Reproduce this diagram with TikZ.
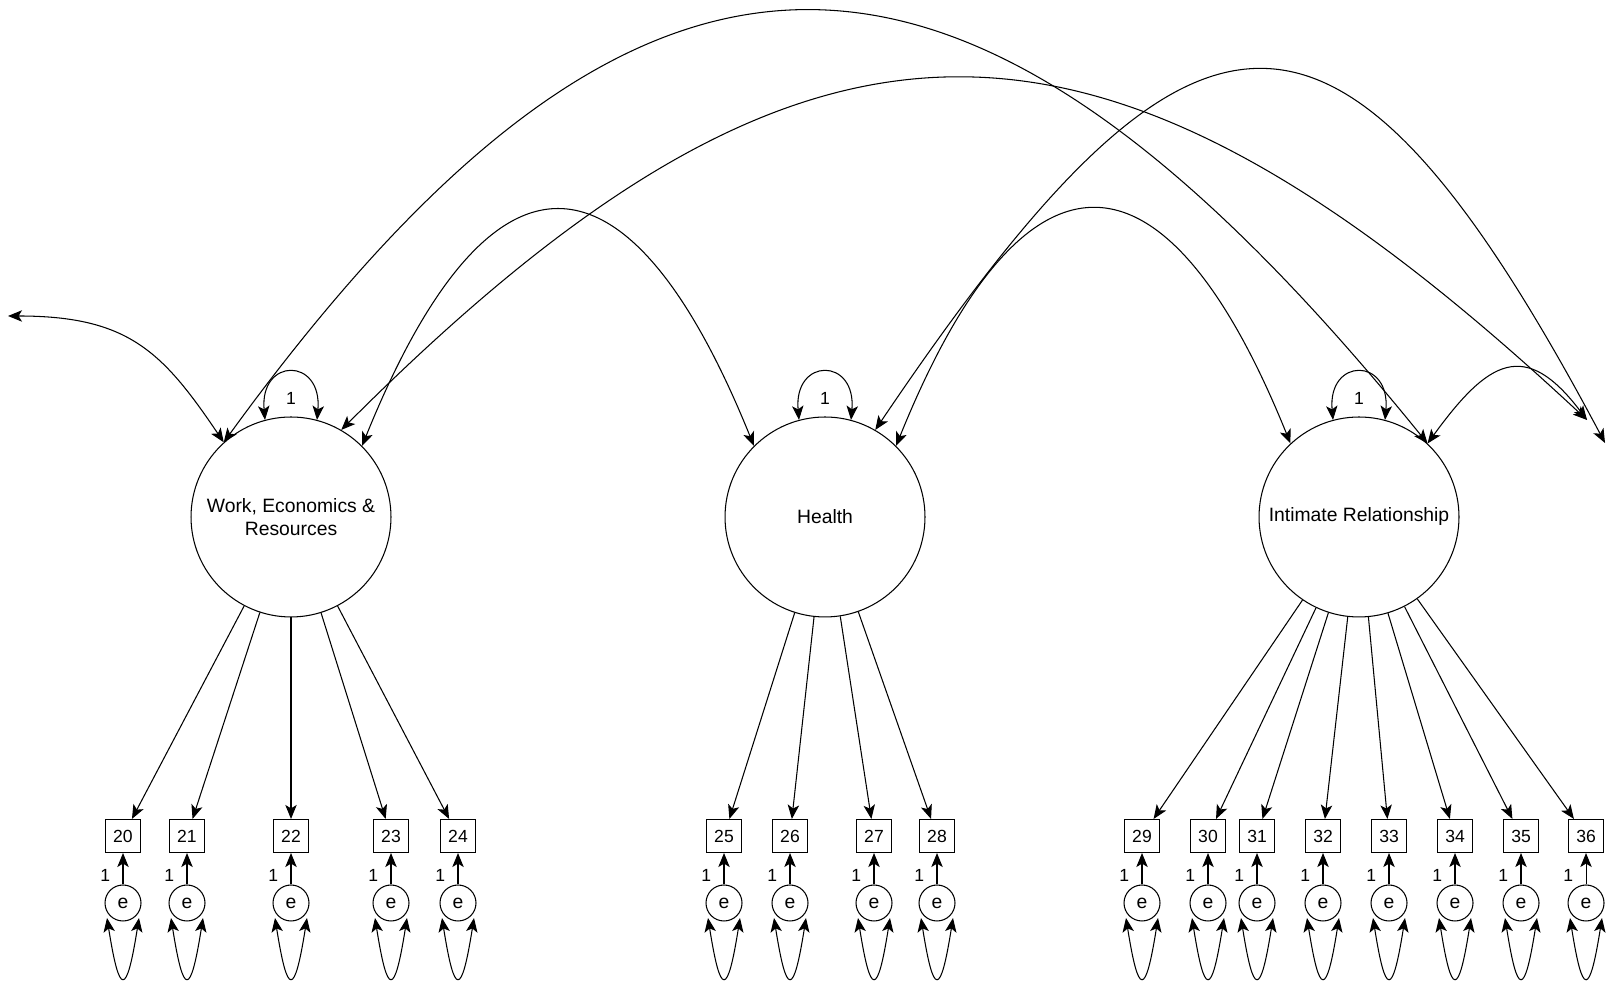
\documentclass[tikz,border=0pt]{standalone}
\usepackage{fontspec}
\setmainfont{Liberation Sans}
\usetikzlibrary{arrows.meta}

\begin{document}
\begin{tikzpicture}[x=0.02cm, y=0.02cm, line width=0.6pt,
    >={Stealth[length=8pt, width=6.5pt, inset=2pt]},
    fator/.style={circle, draw, minimum size=4cm, inner sep=0pt, align=center, font=\fontsize{11}{13}\selectfont},
    ind/.style={rectangle, draw, minimum width=0.7cm, minimum height=0.66cm, inner sep=0pt, font=\fontsize{10}{12}\selectfont},
    erro/.style={circle, draw, minimum size=0.72cm, inner sep=0pt, font=\fontsize{11}{13}\selectfont},
    rot/.style={font=\fontsize{10}{12}\selectfont, inner sep=2pt}]

        \useasboundingbox (0,0) rectangle (1611,982);

        % Fatores
        \node[fator] (work) at (291,465) {Work, Economics \&\\Resources};
        \node[fator] (health) at (825,465) {Health};
        \node[fator] (intim) at (1359,465) {Intimate Relationship};

        % Pontas fora da figura
        \coordinate (foraE) at (8,666);
        \coordinate (foraD1) at (1587,562);
        \coordinate (foraD2) at (1605,539);

        % Variancias dos fatores
        \foreach \f in {work, health, intim} {
            \draw[<->] (\f.105) .. controls +(95:63) and +(85:63) .. node[midway, below=9pt, rot] {1} (\f.75);
        }

        % Covariancias
        \draw[<->] (work.132) .. controls +(124:110) and +(0:120) .. (foraE);
        \draw[<->] (work.132) .. controls +(54:725) and +(129:725) .. (intim.47);
        \draw[<->] (work.60) .. controls +(45:665) and +(137:665) .. (foraD1);
        \draw[<->] (work.45) .. controls +(68:338) and +(112:338) .. (health.135);
        \draw[<->] (health.60) .. controls +(56:570) and +(118:570) .. (foraD2);
        \draw[<->] (health.45) .. controls +(68:338) and +(112:338) .. (intim.133);
        \draw[<->] (intim.47) .. controls +(54:103) and +(127:103) .. (foraD1);

        % Indicadores e erros
        \foreach \n/\x/\f in {20/123/work, 21/187/work, 22/291/work, 23/391/work, 24/458/work,
                              25/724/health, 26/790/health, 27/874/health, 28/937/health,
                              29/1142/intim, 30/1208/intim, 31/1257/intim, 32/1323/intim,
                              33/1389/intim, 34/1455/intim, 35/1521/intim, 36/1586/intim} {
            \node[ind] (b\n) at (\x,146) {\n};
            \node[erro] (e\n) at (\x,79) {e};
            \draw[->] (\f) -- (b\n);
            \draw[->] (e\n) -- node[pos=0.3, left=5pt, rot] {1} (b\n);
            \draw[<->] ([shift={(-16,-15)}]e\n.center) .. controls +(-81:80) and +(-99:80) .. ([shift={(16,-15)}]e\n.center);
        }

    \end{tikzpicture}
\end{document}
